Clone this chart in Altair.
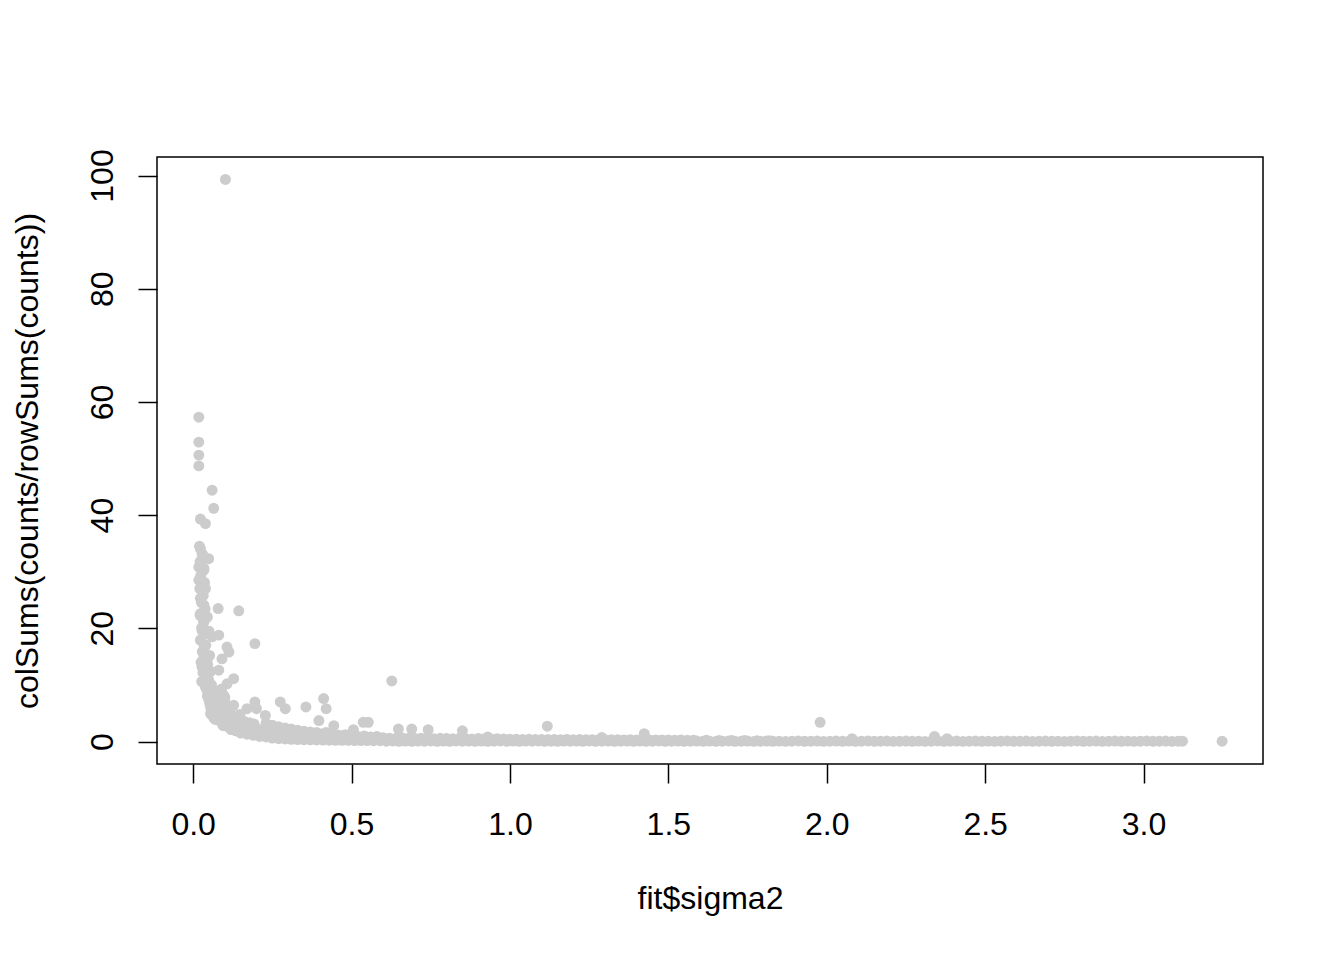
import altair as alt
import pandas as pd

# ---- data ----
# isolated / upper points
top_x = [0.102, 0.018, 0.018, 0.018, 0.018, 0.060, 0.065, 0.023, 0.039, 0.023, 0.028, 0.049,
         0.018, 0.034, 0.018, 0.039, 0.023, 0.034, 0.023, 0.079, 0.144, 0.034, 0.028, 0.060,
         0.081, 0.195, 0.023, 0.107, 0.113, 0.091, 0.034, 0.044, 0.028, 0.039, 0.081, 0.128,
         0.107, 0.049, 0.039, 0.097, 0.060, 0.055, 0.195, 0.275, 0.291, 0.356, 0.412, 0.420,
         0.397, 0.444, 0.200, 0.228, 0.170, 0.128, 0.100, 0.627, 0.537, 0.553, 0.506, 0.648,
         0.690, 0.742, 0.850, 1.118, 1.424, 1.979, 2.340, 2.080, 2.380, 1.290, 0.930, 3.248]
top_y = [99.3, 57.3, 52.9, 50.6, 48.7, 44.4, 41.2, 39.3, 38.5, 34.1, 33.2, 32.3,
         30.8, 30.3, 28.5, 27.0, 25.3, 24.1, 22.6, 23.5, 23.1, 21.1, 19.6, 18.5,
         18.8, 17.3, 17.9, 16.7, 15.8, 14.6, 14.9, 14.3, 13.2, 12.0, 12.6, 11.1,
         10.2, 10.8, 9.6, 8.1, 6.7, 4.9, 7.0, 7.0, 5.8, 6.1, 7.6, 5.8,
         3.7, 2.8, 5.8, 4.6, 5.8, 6.4, 7.8, 10.7, 3.4, 3.4, 2.1, 2.2,
         2.2, 2.1, 1.9, 2.7, 1.4, 3.4, 0.9, 0.5, 0.5, 0.7, 0.8, 0.05]

# steep column near x = 0
col_x = [0.020, 0.030, 0.022, 0.034, 0.024, 0.036, 0.021, 0.032, 0.026, 0.038, 0.022, 0.033,
         0.027, 0.040, 0.024, 0.035, 0.029, 0.042, 0.025, 0.037, 0.031, 0.044, 0.027, 0.039,
         0.043, 0.047, 0.045, 0.050, 0.052, 0.055, 0.057, 0.060, 0.062, 0.065,
         0.045, 0.050, 0.040, 0.052, 0.046, 0.055, 0.048, 0.058, 0.050, 0.062]
col_y = [34.5, 33.0, 31.8, 30.6, 29.3, 28.1, 27.0, 25.8, 24.6, 23.4, 22.3, 21.2,
         20.1, 19.0, 17.9, 16.9, 15.9, 14.9, 14.0, 13.1, 12.2, 11.4, 10.6, 9.9,
         9.2, 8.6, 8.0, 7.4, 6.8, 6.2, 5.7, 5.2, 4.7, 4.2,
         22.0, 19.5, 17.0, 15.2, 13.6, 12.4, 11.0, 10.0, 8.9, 7.9]

# elbow of the curve
elbow_x = [0.060, 0.075, 0.090, 0.070, 0.085, 0.100, 0.065, 0.080, 0.095, 0.110, 0.075, 0.090,
           0.105, 0.120, 0.085, 0.100, 0.115, 0.130, 0.145, 0.095, 0.110, 0.125, 0.140, 0.155,
           0.170, 0.120, 0.135, 0.150, 0.165, 0.180, 0.195, 0.210,
           0.070, 0.082, 0.094, 0.106, 0.118, 0.132, 0.148, 0.160, 0.178, 0.192]
elbow_y = [9.0, 8.8, 9.3, 7.6, 7.2, 7.0, 6.0, 5.8, 6.3, 5.5, 4.6, 4.4,
           4.8, 4.3, 3.6, 3.4, 3.8, 3.5, 3.9, 2.8, 2.6, 2.9, 2.7, 3.0,
           2.8, 2.1, 1.9, 2.2, 2.0, 2.3, 2.4, 2.1,
           3.9, 5.1, 3.0, 4.0, 5.0, 4.4, 4.8, 3.6, 3.3, 3.1]

# lower dense mass
low_x = [0.150, 0.170, 0.190, 0.210, 0.230, 0.250, 0.270, 0.290, 0.310, 0.330, 0.350, 0.370,
         0.390, 0.410, 0.430, 0.450, 0.470, 0.490, 0.510, 0.530, 0.550, 0.570, 0.590,
         0.160, 0.180, 0.200, 0.220, 0.240, 0.260, 0.280, 0.300, 0.320, 0.340, 0.360, 0.380,
         0.400, 0.420, 0.230, 0.250, 0.270, 0.290, 0.310, 0.330, 0.350, 0.370, 0.390, 0.410,
         0.430, 0.460, 0.490, 0.520, 0.560,
         0.260, 0.300, 0.340, 0.380, 0.420, 0.440, 0.480, 0.540, 0.580]
low_y = [1.5, 1.3, 1.1, 0.9, 0.8, 0.6, 0.5, 0.45, 0.4, 0.35, 0.33, 0.3,
         0.28, 0.25, 0.24, 0.22, 0.21, 0.2, 0.18, 0.17, 0.16, 0.15, 0.14,
         2.3, 2.0, 1.8, 1.6, 1.5, 1.3, 1.2, 1.1, 1.0, 0.9, 0.85, 0.8,
         0.7, 0.65, 3.2, 2.9, 2.6, 2.4, 2.2, 2.0, 1.8, 1.7, 1.6, 1.4,
         1.3, 1.1, 1.0, 0.9, 0.8,
         2.1, 1.9, 1.5, 1.3, 1.6, 1.4, 1.2, 1.0, 0.9]

# long flat band near y = 0
band_x = [0.61, 0.63, 0.65, 0.67, 0.69, 0.71, 0.73, 0.75, 0.77, 0.79, 0.81, 0.83, 0.85, 0.87,
          0.89, 0.91, 0.93, 0.95, 0.97, 0.99, 1.01, 1.03, 1.05, 1.07, 1.09, 1.11, 1.13, 1.15,
          1.17, 1.19, 1.21, 1.23, 1.25, 1.27, 1.29, 1.31, 1.33, 1.35, 1.37, 1.39, 1.41, 1.43,
          1.45, 1.47, 1.49, 1.51, 1.53, 1.55, 1.57, 1.59, 1.61, 1.63, 1.65, 1.67, 1.69, 1.71,
          1.73, 1.75, 1.77, 1.79, 1.81, 1.83, 1.85, 1.87, 1.89, 1.91, 1.93, 1.95, 1.97, 1.99,
          2.01, 2.03, 2.05, 2.07, 2.09, 2.11, 2.13, 2.15, 2.17, 2.19, 2.21, 2.23, 2.25, 2.27,
          2.29, 2.31, 2.33, 2.35, 2.37, 2.39, 2.41, 2.43, 2.45, 2.47, 2.49, 2.51, 2.53, 2.55,
          2.57, 2.59, 2.61, 2.63, 2.65, 2.67, 2.69, 2.71, 2.73, 2.75, 2.77, 2.79, 2.81, 2.83,
          2.85, 2.87, 2.89, 2.91, 2.93, 2.95, 2.97, 2.99, 3.01, 3.03, 3.05, 3.07, 3.09, 3.11,
          3.123]
band_y = [0.05, 0.10, 0.04, 0.08, 0.03, 0.09, 0.05, 0.11, 0.04, 0.07, 0.03, 0.10, 0.05, 0.08,
          0.04, 0.09, 0.03, 0.06, 0.10, 0.04, 0.08, 0.03, 0.07, 0.05, 0.10, 0.04, 0.06, 0.03,
          0.09, 0.05, 0.07, 0.03, 0.10, 0.04, 0.06, 0.08, 0.03, 0.05, 0.09, 0.04, 0.07, 0.03,
          0.06, 0.10, 0.04, 0.05, 0.08, 0.03, 0.06, 0.09, 0.04, 0.07, 0.03, 0.05, 0.10, 0.04,
          0.06, 0.08, 0.03, 0.05, 0.09, 0.04, 0.07, 0.03, 0.06, 0.10, 0.04, 0.05, 0.08, 0.03,
          0.06, 0.09, 0.04, 0.07, 0.03, 0.05, 0.10, 0.04, 0.06, 0.08, 0.03, 0.05, 0.09, 0.04,
          0.07, 0.03, 0.06, 0.10, 0.04, 0.05, 0.08, 0.03, 0.06, 0.09, 0.04, 0.07, 0.03, 0.05,
          0.10, 0.04, 0.06, 0.08, 0.03, 0.05, 0.09, 0.04, 0.07, 0.03, 0.06, 0.10, 0.04, 0.05,
          0.08, 0.03, 0.06, 0.09, 0.04, 0.07, 0.03, 0.05, 0.10, 0.04, 0.06, 0.08, 0.03, 0.05,
          0.06]

# upper edge of the band where it is thicker
upper_x = [0.60, 0.62, 0.64, 0.66, 0.68, 0.70, 0.72, 0.74, 0.76, 0.78, 0.80, 0.82, 0.84, 0.86,
           0.88, 0.90, 0.92, 0.94, 0.96, 0.98, 1.00, 1.02, 1.04, 1.06, 1.08, 1.10, 1.12, 1.14,
           1.16, 1.18, 1.20, 1.22, 1.24, 1.26, 1.28, 1.30, 1.32, 1.34, 1.36, 1.38, 1.40, 1.42,
           1.44, 1.46, 1.48, 1.50, 1.52, 1.54, 1.56, 1.58, 1.62, 1.66, 1.70, 1.74, 1.78, 1.82]
upper_y = [0.65, 0.60, 0.55, 0.62, 0.58, 0.52, 0.60, 0.55, 0.50, 0.57, 0.52, 0.48, 0.55, 0.50,
           0.45, 0.52, 0.48, 0.44, 0.50, 0.45, 0.40, 0.42, 0.38, 0.40, 0.36, 0.38, 0.35, 0.37,
           0.34, 0.36, 0.33, 0.35, 0.32, 0.34, 0.31, 0.33, 0.30, 0.32, 0.29, 0.31, 0.28, 0.30,
           0.27, 0.29, 0.26, 0.28, 0.25, 0.27, 0.24, 0.25, 0.22, 0.20, 0.18, 0.17, 0.16, 0.15]

x_ticks = [0.0, 0.5, 1.0, 1.5, 2.0, 2.5, 3.0]
y_ticks = [0, 20, 40, 60, 80, 100]

xs = top_x + col_x + elbow_x + low_x + band_x + upper_x
ys = top_y + col_y + elbow_y + low_y + band_y + upper_y
df = pd.DataFrame({"sigma2": xs, "value": ys})

FONT = "Liberation Sans"

chart = alt.Chart(df).mark_circle(size=120, color="#CCCCCC", opacity=1).encode(
    x=alt.X("sigma2:Q",
            scale=alt.Scale(domain=[-0.114, 3.377], nice=False, zero=False),
            axis=alt.Axis(values=x_ticks, format=".1f", title="fit$sigma2",
                          labelBaseline="alphabetic", labelPadding=51,
                          titleX=553, titleY=144, titleBaseline="alphabetic",
                          titleAnchor="middle")),
    y=alt.Y("value:Q",
            scale=alt.Scale(domain=[-3.97, 103.27], nice=False, zero=False),
            axis=alt.Axis(values=y_ticks, format="d", title="colSums(counts/rowSums(counts))",
                          labelAngle=270, labelAlign="center", labelBaseline="alphabetic",
                          labelPadding=26,
                          titleAngle=270, titleX=-120, titleY=303.5,
                          titleAlign="center", titleBaseline="alphabetic")),
).properties(
    width=1106, height=607,
    autosize=alt.AutoSizeParams(type="none"),
    padding={"left": 149, "top": 149, "right": 73, "bottom": 188},
    background="white",
).configure_view(
    stroke="black", strokeWidth=1.5
).configure_axis(
    domain=False, grid=False, ticks=True, tickSize=19, tickColor="black", tickWidth=1.5,
    labelFont=FONT, labelFontSize=32, labelColor="black",
    titleFont=FONT, titleFontSize=32, titleFontWeight="normal", titleColor="black",
    labelOverlap=False, labelFlush=False,
)

chart.save("out.html", embed_options={"renderer": "svg", "actions": False})
